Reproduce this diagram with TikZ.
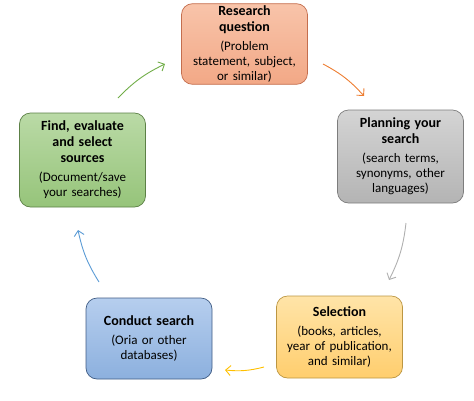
\documentclass[tikz,border=0pt]{standalone}
\usepackage{fontspec}
\setmainfont{Carlito}
\usetikzlibrary{shapes, arrows.meta, positioning}

\definecolor{qtop}{RGB}{248,196,170}
\definecolor{qbot}{RGB}{242,168,134}
\definecolor{qline}{RGB}{196,110,78}
\definecolor{ptop}{RGB}{212,212,212}
\definecolor{pbot}{RGB}{180,180,180}
\definecolor{pline}{RGB}{125,125,125}
\definecolor{ftop}{RGB}{186,218,166}
\definecolor{fbot}{RGB}{150,196,122}
\definecolor{fline}{RGB}{92,128,70}
\definecolor{ctop}{RGB}{182,206,238}
\definecolor{cbot}{RGB}{140,176,222}
\definecolor{cline}{RGB}{64,92,132}
\definecolor{stop}{RGB}{255,228,168}
\definecolor{sbot}{RGB}{255,206,110}
\definecolor{sline}{RGB}{188,150,66}
\definecolor{arrorange}{RGB}{237,125,49}
\definecolor{arrgray}{RGB}{175,175,175}
\definecolor{arryellow}{RGB}{255,192,0}
\definecolor{arrblue}{RGB}{91,155,213}
\definecolor{arrgreen}{RGB}{112,173,71}

\newcommand{\boxtitle}[1]{{\fontsize{14}{16}\selectfont\bfseries #1\par}\vspace{4pt}}

\begin{document}
\begin{tikzpicture}[x=1pt, y=-1pt,
  box/.style={draw, rounded corners=11pt, line width=.7pt, align=center,
    text width=120pt, inner xsep=3pt, inner ysep=2pt, font=\fontsize{13}{15}\selectfont},
  link/.style={line width=.9pt, -{Straight Barb[length=5pt,width=10pt]}, bend left=10}] % pixel grid, y runs downwards

  \useasboundingbox (0,0) rectangle (474,400);

  \node[box, draw=qline, top color=qtop, bottom color=qbot, minimum height=80pt] (question) at (244.5,44)
	{\boxtitle{Research\\question}(Problem\\statement, subject,\\or similar)};
  \node[box, draw=pline, top color=ptop, bottom color=pbot, minimum height=93pt] (planning) at (400.5,156.5)
	{\boxtitle{Planning your\\search}(search terms,\\synonyms, other\\languages)};
  \node[box, draw=sline, top color=stop, bottom color=sbot, minimum height=82pt] (selection) at (339.5,337)
	{\boxtitle{Selection}(books, articles,\\year of publication,\\and similar)};
  \node[box, draw=cline, top color=ctop, bottom color=cbot, minimum height=81pt] (conduct) at (149,338.5)
	{\boxtitle{Conduct search}(Oria or other\\databases)};
  \node[box, draw=fline, top color=ftop, bottom color=fbot, minimum height=94pt] (find) at (82.5,160)
	{\boxtitle{Find, evaluate\\and select\\sources}(Document/save\\your searches)};

  % arrow ends between the boxes
  \coordinate (qp1) at (323,64);  \coordinate (qp2) at (364,96);
  \coordinate (ps1) at (406,223); \coordinate (ps2) at (389,280);
  \coordinate (sc1) at (264,367); \coordinate (sc2) at (225,370);
  \coordinate (cf1) at (99,282);  \coordinate (cf2) at (78,230);
  \coordinate (fq1) at (118,98);  \coordinate (fq2) at (165,64);

  \draw[link, arrorange] (qp1) to (qp2);
  \draw[link, arrgray] (ps1) to (ps2);
  \draw[link, arryellow] (sc1) to (sc2);
  \draw[link, arrblue] (cf1) to (cf2);
  \draw[link, arrgreen] (fq1) to (fq2);
\end{tikzpicture}
\end{document}
